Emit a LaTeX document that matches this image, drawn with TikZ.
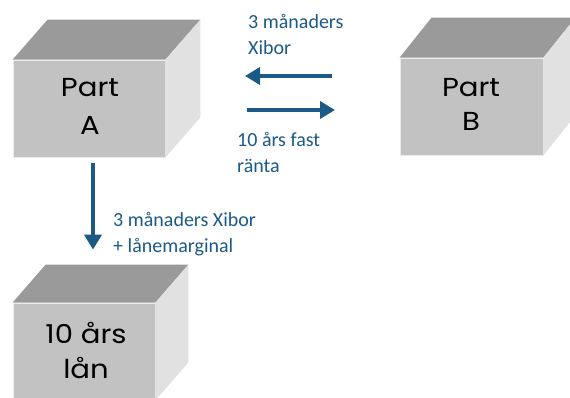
\documentclass[tikz,border=0pt]{standalone}
\usepackage{fontspec}
\setmainfont{Carlito}
\newfontfamily\boxfont[FakeStretch=1.12]{Poppins}
\usetikzlibrary{arrows.meta,calc}
\definecolor{linkblue}{HTML}{1B5A86}
\definecolor{frontgray}{HTML}{C2C2C2}
\definecolor{topgray}{HTML}{9A9A9A}
\definecolor{sidegray}{HTML}{E1E1E1}
\tikzset{
  front/.style={draw=white!92!black, line width=0.8pt, fill=frontgray, inner sep=0pt},
  boxtext/.style={font=\boxfont\fontsize{26}{38}\selectfont, align=center, text=black, inner sep=0pt, anchor=base},
  flow/.style={draw=linkblue, line width=4pt, -{Triangle[length=15pt,width=17pt]}},
  note/.style={font=\fontsize{20}{26}\selectfont, text=linkblue, align=left, inner sep=0pt, anchor=base west}
}
% top and right faces of a block, drawn from its front node
\newcommand{\blockfaces}[3]{%
  \fill[topgray] (#1.north west) -- ++(#2,-#3) -- ($(#1.north east)+(#2,-#3)$) -- (#1.north east) -- cycle;
  \fill[sidegray] (#1.north east) -- ++(#2,-#3) -- ($(#1.south east)+(#2,-#3)$) -- (#1.south east) -- cycle;
}
\begin{document}
\begin{tikzpicture}[x=1pt,y=-1pt]
\useasboundingbox (0,0) rectangle (570,398);
\begin{scope}
\clip (0,0) rectangle (570,398);
% blocks
\node[front, minimum width=152pt, minimum height=97pt] (A) at (89,108.5) {};
\node[front, minimum width=143pt, minimum height=97pt] (B) at (471.5,106.5) {};
\node[front, minimum width=142pt, minimum height=97pt] (C) at (84,351.5) {};
\blockfaces{A}{35}{40}
\blockfaces{B}{32}{40}
\blockfaces{C}{33}{38}
\end{scope}
% block labels, placed by baseline
\node[boxtext] (A1) at (90,97) {Part};
\node[boxtext] (A2) at (90,135) {A};
\node[boxtext] (B1) at (471,97) {Part};
\node[boxtext] (B2) at (471,131) {B};
\node[boxtext] (C1) at (86,343) {10 års};
\node[boxtext] (C2) at (86,378) {lån};
% flows between the parties
\coordinate (l1) at (332,76);
\coordinate (l2) at (245,76);
\coordinate (r1) at (247,110);
\coordinate (r2) at (335,110);
\draw[flow] (l1) -- (l2);
\draw[flow] (r1) -- (r2);
\draw[flow] ($(A.south)+(4,6)$) -- ($(C.north)+(9,-53)$);
% notes (anchored at the baseline of their last line)
\node[note] (n1) at (248,55) {3 månaders\\Xibor};
\node[note] (n2) at (237,173) {10 års fast\\ränta};
\node[note] (n3) at (113,252) {3 månaders Xibor\\+ lånemarginal};
\end{tikzpicture}
\end{document}
